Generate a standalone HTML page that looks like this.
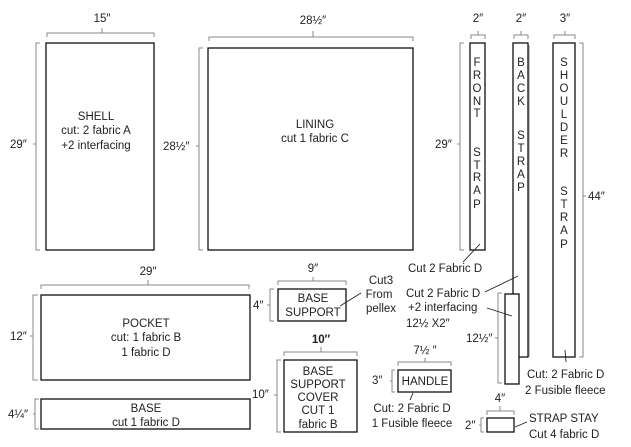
<!DOCTYPE html>
<html><head><style>
html,body{margin:0;padding:0;background:#fff;}
svg{display:block;}
text{font-family:"Liberation Sans",sans-serif;font-size:11.5px;fill:#222;}
.b{fill:#fff;stroke:#111;stroke-width:1.3;}
.d{fill:none;stroke:#888;stroke-width:1;}
.l{stroke:#222;stroke-width:0.9;fill:none;}
</style></head><body>
<svg width="631" height="447" viewBox="0 0 631 447">
<!-- SHELL -->
<rect class="b" x="46" y="43" width="108" height="207"/>
<path class="d" d="M47,37V33H154V37M102,33V28"/>
<text x="102" y="22" text-anchor="middle">15″</text>
<path class="d" d="M40,43H36V250H40M36,144H33"/>
<text x="10" y="148">29″</text>
<text x="96" y="120" text-anchor="middle">SHELL</text>
<text x="96" y="134" text-anchor="middle">cut: 2 fabric A</text>
<text x="96" y="149" text-anchor="middle">+2 interfacing</text>
<!-- LINING -->
<rect class="b" x="208" y="48" width="205" height="202"/>
<path class="d" d="M209,41V37H413V41M313,37V31"/>
<text x="313" y="24" text-anchor="middle">28½″</text>
<path class="d" d="M203,48H199V250H203M199,146H196"/>
<text x="163" y="150">28½″</text>
<text x="315" y="128" text-anchor="middle">LINING</text>
<text x="315" y="142" text-anchor="middle">cut 1 fabric C</text>
<!-- FRONT STRAP -->
<rect class="b" x="470" y="43" width="15" height="207"/>
<path class="d" d="M471,39V35H485V39M478,35V31"/>
<text x="478" y="22" text-anchor="middle">2″</text>
<path class="d" d="M464,43H460V250H464M460,144H457"/>
<text x="435" y="148">29″</text>
<g text-anchor="middle">
<text x="477" y="66">F</text><text x="477" y="79">R</text><text x="477" y="92">O</text><text x="477" y="105">N</text><text x="477" y="117">T</text>
<text x="477" y="156">S</text><text x="477" y="169">T</text><text x="477" y="181">R</text><text x="477" y="194">A</text><text x="477" y="208">P</text>
</g>
<path class="l" d="M480,244L463,262"/>
<text x="408" y="272">Cut 2 Fabric D</text>
<!-- BACK STRAP -->
<rect class="b" x="513" y="43" width="15" height="314"/>
<path class="d" d="M529,45V357"/>
<path class="d" d="M514,39V35H528V39M521,35V31"/>
<text x="521" y="22" text-anchor="middle">2″</text>
<g text-anchor="middle">
<text x="521" y="66">B</text><text x="521" y="79">A</text><text x="521" y="92">C</text><text x="521" y="105">K</text>
<text x="521" y="139">S</text><text x="521" y="152">T</text><text x="521" y="165">R</text><text x="521" y="178">A</text><text x="521" y="191">P</text>
</g>
<rect class="b" x="505" y="294" width="14" height="90"/>
<path class="d" d="M502,293H498V383H502M498,338H495"/>
<text x="466" y="342">12½″</text>
<path class="l" d="M518,276L485,292"/>
<path class="l" d="M487,308L512,316"/>
<text x="406" y="297">Cut 2 Fabric D</text>
<text x="408" y="311">+2 interfacing</text>
<text x="406" y="327">12½ X2″</text>
<!-- SHOULDER STRAP -->
<rect class="b" x="553" y="43" width="22" height="314"/>
<path class="d" d="M554,39V35H575V39M565,35V31"/>
<text x="565" y="22" text-anchor="middle">3″</text>
<path class="d" d="M579,43H583V357H579M583,196H586"/>
<text x="588" y="200">44″</text>
<g text-anchor="middle">
<text x="564" y="66">S</text><text x="564" y="79">H</text><text x="564" y="92">O</text><text x="564" y="105">U</text><text x="564" y="118">L</text><text x="564" y="131">D</text><text x="564" y="144">E</text><text x="564" y="157">R</text>
<text x="564" y="195">S</text><text x="564" y="208">T</text><text x="564" y="221">R</text><text x="564" y="234">A</text><text x="564" y="248">P</text>
</g>
<path class="l" d="M565,350L566,362"/>
<text x="527" y="378">Cut: 2 Fabric D</text>
<text x="525" y="394">2 Fusible fleece</text>
<!-- STRAP STAY -->
<rect class="b" x="487" y="418" width="27" height="14"/>
<path class="d" d="M487,415V411H514V415M500,411V406"/>
<text x="500" y="402" text-anchor="middle">4″</text>
<path class="d" d="M484,418H481V432H484M481,425H479"/>
<text x="465" y="429">2″</text>
<path class="l" d="M515,427L527,422"/>
<text x="529" y="422">STRAP STAY</text>
<text x="529" y="438">Cut 4 fabric D</text>
<!-- POCKET -->
<rect class="b" x="41" y="295" width="209" height="85"/>
<path class="d" d="M41,289V285H249V289M148,285V280"/>
<text x="148" y="275" text-anchor="middle">29″</text>
<path class="d" d="M38,295H33V380H38M33,336H30"/>
<text x="10" y="340">12″</text>
<text x="146" y="327" text-anchor="middle">POCKET</text>
<text x="146" y="341" text-anchor="middle">cut: 1 fabric B</text>
<text x="146" y="356" text-anchor="middle">1 fabric  D</text>
<!-- BASE -->
<rect class="b" x="41" y="399" width="209" height="30"/>
<path class="d" d="M39,399H35V429H39M35,414H33"/>
<text x="8" y="418">4¼″</text>
<text x="146" y="412" text-anchor="middle">BASE</text>
<text x="146" y="426" text-anchor="middle">cut 1 fabric D</text>
<!-- BASE SUPPORT -->
<rect class="b" x="278" y="289" width="68" height="32"/>
<path class="d" d="M278,285V281H346V285M313,281V277"/>
<text x="313" y="272" text-anchor="middle">9″</text>
<path class="d" d="M274,289H270V321H274M270,305H267"/>
<text x="253" y="309">4″</text>
<text x="313" y="302" text-anchor="middle">BASE</text>
<text x="313" y="316" text-anchor="middle">SUPPORT</text>
<path class="l" d="M340,306L361,293"/>
<text x="381" y="284" text-anchor="middle">Cut3</text>
<text x="379" y="298" text-anchor="middle">From</text>
<text x="381" y="312" text-anchor="middle">pellex</text>
<!-- BASE SUPPORT COVER -->
<rect class="b" x="284" y="360" width="73" height="72"/>
<path class="d" d="M284,356V352H357V356M321,352V347"/>
<text x="321" y="343" text-anchor="middle" style="font-weight:bold">10″</text>
<path class="d" d="M281,360H277V432H281M277,395H274"/>
<text x="252" y="398">10″</text>
<text x="318" y="375" text-anchor="middle">BASE</text>
<text x="318" y="388" text-anchor="middle">SUPPORT</text>
<text x="318" y="401" text-anchor="middle">COVER</text>
<text x="318" y="414" text-anchor="middle">CUT 1</text>
<text x="318" y="428" text-anchor="middle">fabric  B</text>
<!-- HANDLE -->
<rect class="b" x="398" y="370" width="53" height="22"/>
<path class="d" d="M398,366V362H451V366M425,362V358"/>
<text x="425" y="354" text-anchor="middle">7½ ″</text>
<path class="d" d="M395,370H392V392H395M392,381H390"/>
<text x="372" y="384">3″</text>
<text x="425" y="385" text-anchor="middle">HANDLE</text>
<path class="l" d="M413,393L410,400"/>
<text x="412" y="412" text-anchor="middle">Cut: 2 Fabric D</text>
<text x="412" y="427" text-anchor="middle">1 Fusible fleece</text>
</svg>
</body></html>
